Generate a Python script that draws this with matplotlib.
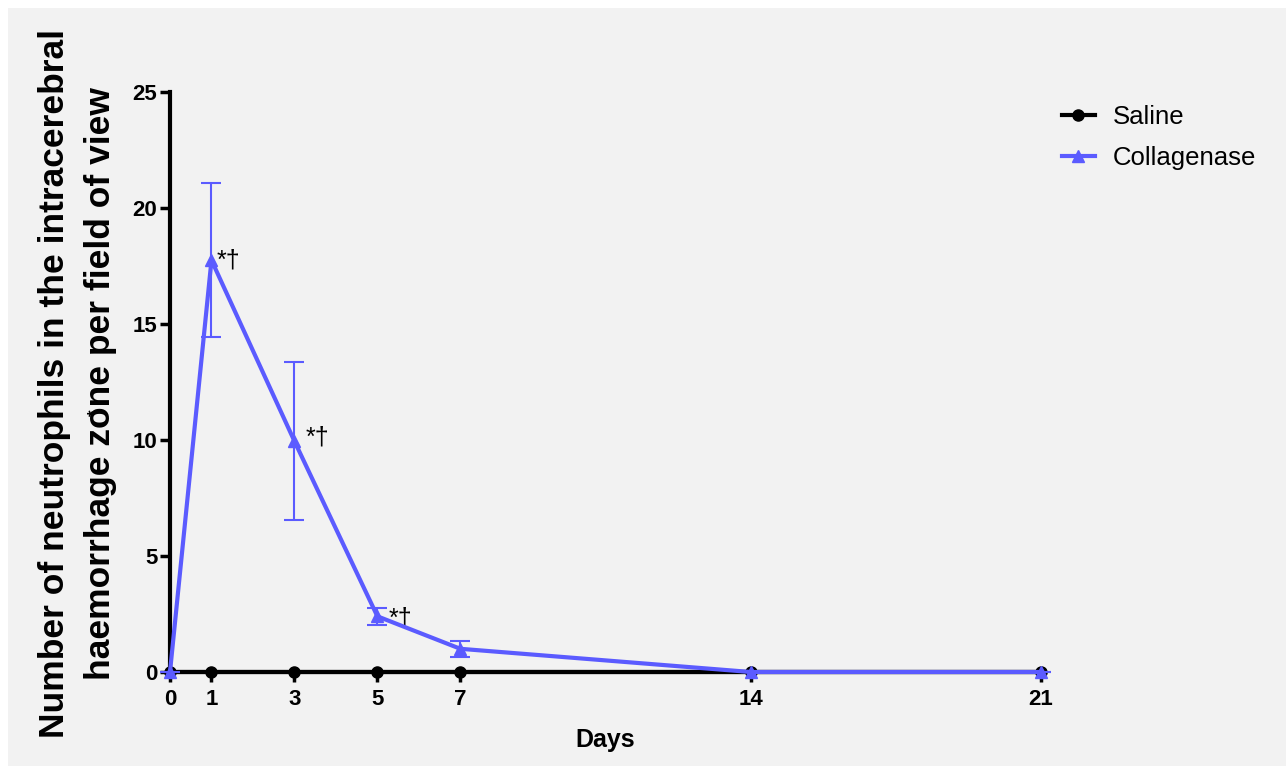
import matplotlib
matplotlib.use("Agg")
import matplotlib.pyplot as plt
from matplotlib.patches import Rectangle
from matplotlib.lines import Line2D

plt.rcParams['font.family'] = ['Liberation Sans', 'DejaVu Sans']

# neutrophil counts per field of view (mean +/- SEM)
days = [0, 1, 3, 5, 7, 14, 21]
saline = [0, 0, 0, 0, 0, 0, 0]
collagenase = [0, 17.75, 9.95, 2.4, 1.0, 0, 0]
collagenase_sem = [0, 3.32, 3.4, 0.36, 0.34, 0, 0]
sig_days = [1, 3, 5]
sig_text = "*\u2020"

blue = "#5b5bff"
bg = "#f2f2f2"

fig = plt.figure(figsize=(12.86, 7.66), dpi=100)
fig.patch.set_facecolor("white")
fig.patches.append(Rectangle((8 / 1286, 0), 1, 1 - 8 / 766, transform=fig.transFigure,
                             facecolor=bg, edgecolor="none", zorder=-10))

ax = fig.add_axes([170 / 1286, 1 - 672 / 766, 871 / 1286, 580 / 766])
ax.set_facecolor(bg)

ax.plot(days, saline, color="black", lw=3, marker="o", ms=8,
        clip_on=False, zorder=3)
ax.errorbar(days, collagenase, yerr=collagenase_sem, color=blue, lw=3,
            marker="^", ms=9, elinewidth=1.5, capsize=7, capthick=1.5,
            clip_on=False, zorder=4)

# significance marks next to the collagenase points
offsets = {1: (5, 0), 3: (11, 4), 5: (11, -2)}
for d in sig_days:
    i = days.index(d)
    ax.annotate(sig_text, (d, collagenase[i]), xytext=offsets[d],
                textcoords="offset pixels", fontsize=18, ha="left",
                va="center", color="black")

ax.set_xlim(0, 21)
ax.set_ylim(0, 25)
ax.set_xticks(days)
ax.set_yticks([0, 5, 10, 15, 20, 25])
for s in ["top", "right"]:
    ax.spines[s].set_visible(False)
for s in ["left", "bottom"]:
    ax.spines[s].set_linewidth(3)
ax.tick_params(axis="both", width=2.5, length=7.5, labelsize=16)
ax.tick_params(axis="x", pad=5)
ax.tick_params(axis="y", pad=1.5)
for lab in ax.get_xticklabels() + ax.get_yticklabels():
    lab.set_fontweight("bold")

ax.set_xlabel("Days", fontsize=18, fontweight="bold", labelpad=13)
fig.text(78 / 1286, 1 - 384 / 766,
         "Number of neutrophils in the intracerebral\nhaemorrhage zone per field of view",
         rotation=90, ha="center", va="center", fontsize=25.5, fontweight="bold",
         linespacing=1.5)
fig.text(95 / 1286, 1 - 413 / 766, "*", rotation=90, ha="center", va="center",
         fontsize=12, fontweight="bold")

handles = [Line2D([], [], color="black", lw=3, marker="o", ms=8),
           Line2D([], [], color=blue, lw=3, marker="^", ms=9)]
ax.legend(handles, ["Saline", "Collagenase"], loc="upper left",
          bbox_to_anchor=(1.012, 0.995), frameon=False, fontsize=18.5,
          handlelength=1.3, labelspacing=0.65, borderaxespad=0.0,
          handletextpad=0.7)

fig.savefig("out.png", dpi=100, facecolor=fig.get_facecolor())
